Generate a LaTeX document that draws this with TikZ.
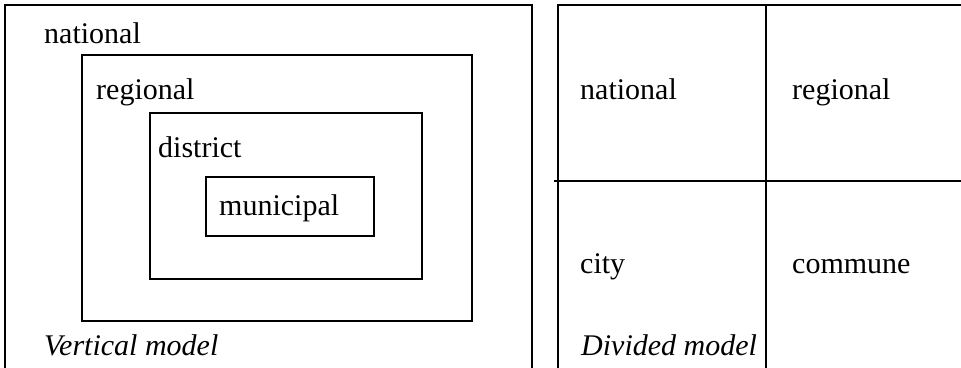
\documentclass[tikz,border=0pt]{standalone}
\usepackage{fontspec}
\setmainfont{Liberation Serif}
\begin{document}
\begin{tikzpicture}[x=1pt,y=-1pt,
  frame/.style={line width=2pt,line cap=rect},
  lbl/.style={anchor=base west,inner sep=0pt,font=\fontsize{30}{36}\selectfont},
  ilbl/.style={lbl,font=\fontsize{30}{36}\selectfont\itshape}]
\useasboundingbox (0,0) rectangle (961,367);
% Vertical model
\draw[frame] (5,367) -- (5,5) -- (532,5) -- (532,367);
\draw[frame] (82,55) rectangle (472,321);
\draw[frame] (150,113) rectangle (422,279);
\draw[frame] (206,177) rectangle (374,236);
\node[lbl] (vnat) at (44,43) {national};
\node[lbl] (vreg) at (96,99) {regional};
\node[lbl] (vdis) at (158,157) {district};
\node[lbl] (vmun) at (219,215) {municipal};
\node[ilbl] (vcap) at (44,355) {Vertical model};
% Divided model
\draw[frame] (558,367) -- (558,5) -- (961,5);
\draw[frame] (555,181) -- (961,181);
\draw[frame] (766,5) -- (766,367);
\node[lbl] (dnat) at (580,99) {national};
\node[lbl] (dreg) at (792,99) {regional};
\node[lbl] (dcit) at (580,273) {city};
\node[lbl] (dcom) at (792,273) {commune};
\node[ilbl] (dcap) at (581,355) {Divided model};
\end{tikzpicture}
\end{document}
